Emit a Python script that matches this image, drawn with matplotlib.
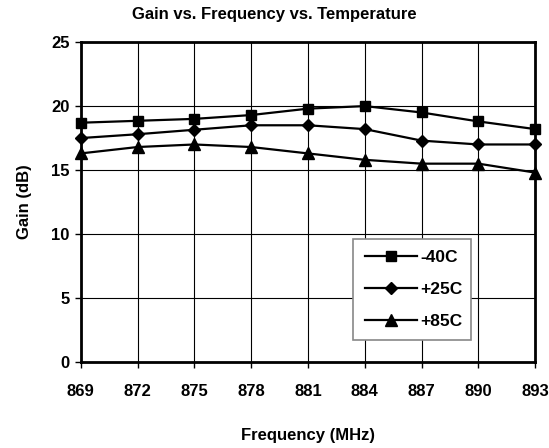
import matplotlib
matplotlib.use('Agg')
import matplotlib.pyplot as plt

plt.rcParams['font.family'] = ['Liberation Sans', 'DejaVu Sans']
plt.rcParams['font.weight'] = 'bold'

freq = [869, 872, 875, 878, 881, 884, 887, 890, 893]
gain_m40 = [18.7, 18.85, 19.0, 19.3, 19.8, 20.0, 19.5, 18.8, 18.2]
gain_p25 = [17.5, 17.8, 18.15, 18.5, 18.5, 18.2, 17.3, 17.0, 17.0]
gain_p85 = [16.3, 16.8, 17.0, 16.8, 16.3, 15.8, 15.5, 15.5, 14.8]
labels = ['-40C', '+25C', '+85C']
markers = ['s', 'D', '^']
msizes = [7.5, 6, 8]

fig = plt.figure(figsize=(5.49, 4.48), dpi=100)
ax = fig.add_axes([0.147, 0.192, 0.828, 0.714])

for y, lab, m, ms in zip([gain_m40, gain_p25, gain_p85], labels, markers, msizes):
    ax.plot(freq, y, color='black', lw=1.6, marker=m, markersize=ms, label=lab, clip_on=False)

ax.set_xlim(869, 893)
ax.set_ylim(0, 25)
ax.set_xticks(freq)
ax.set_yticks([0, 5, 10, 15, 20, 25])
ax.grid(True, color='black', lw=0.8)
for s in ax.spines.values():
    s.set_linewidth(2)
ax.tick_params(axis='both', labelsize=12, width=1, length=4, direction='out')
ax.tick_params(axis='x', pad=12)
ax.tick_params(axis='y', pad=4)
ax.set_xlabel('Frequency (MHz)', fontsize=12, fontweight='bold', labelpad=21)
ax.set_ylabel('Gain (dB)', fontsize=12, fontweight='bold', labelpad=14)
fig.suptitle('Gain vs. Frequency vs. Temperature', fontsize=12, fontweight='bold', y=0.985)

leg = ax.legend(loc='lower left', bbox_to_anchor=(0.6, 0.069, 0.258, 0.321), mode='expand',
                borderaxespad=0, fontsize=12.5, frameon=True, fancybox=False, handlelength=3,
                labelspacing=0.95, borderpad=0.65, handletextpad=0.2)
leg.get_frame().set_edgecolor('#888888')
leg.get_frame().set_linewidth(1.2)
leg.get_frame().set_alpha(1)

fig.savefig('out.png', dpi=100)
